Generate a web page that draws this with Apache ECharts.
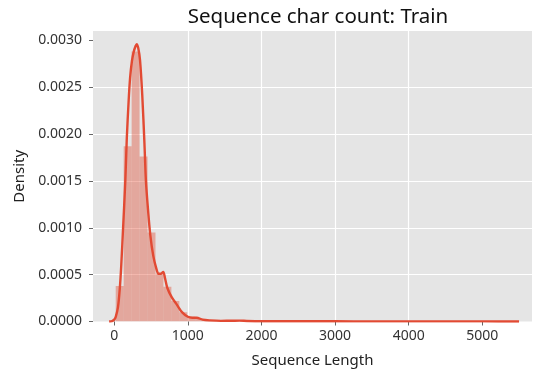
<!DOCTYPE html>
<html>
<head>
<meta charset="utf-8">
<script src="https://cdn.jsdelivr.net/npm/echarts@6/dist/echarts.min.js"></script>
<style>
  html, body { margin: 0; padding: 0; background: #fff; }
  #chart { width: 533px; height: 375px; }
</style>
</head>
<body>
<div id="chart"></div>
<script>
// histogram: 50 equal bins starting at histStart
const histStart = 20
const binWidth = 108
const binDensity = [
  0.00038, 0.00187, 0.00288, 0.00176, 0.00095, 0.00051, 0.00037, 0.00022, 0.00010, 0.00005,
  0.00003, 0.000012, 0.000008, 0.000006, 0.000005, 0.000007, 0.000005, 0.000003, 0.000002, 0.000002,
  0.000001, 0.000001, 0.000001, 0.000001, 0, 0.000001, 0, 0, 0.000001, 0,
  0, 0, 0.000001, 0, 0, 0, 0, 0, 0.000001, 0,
  0, 0, 0, 0, 0, 0, 0, 0, 0, 0.000001
]

// kde curve
const kdeX = [-70, -30, 0, 20, 50, 75, 95, 120, 150, 170, 195, 215, 240, 265, 290, 305, 325, 350, 380, 410,
  430, 460, 490, 530, 570, 600, 630, 665, 690, 720, 780, 850, 920, 1000, 1060, 1120, 1200, 1300, 1450, 1600,
  1700, 1800, 2000, 2500, 3000, 3500, 4000, 4500, 5000, 5500]
const kdeY = [0, 0.000005, 0.00002, 0.00005, 0.00015, 0.00035, 0.0006, 0.001, 0.0015, 0.00195, 0.00235, 0.0026, 0.00278, 0.00288, 0.00294, 0.00296, 0.00292, 0.00279, 0.00242, 0.0019,
  0.0015, 0.00118, 0.00092, 0.0007, 0.00057, 0.00051, 0.00051, 0.00053, 0.00046, 0.00036, 0.00026, 0.00018, 0.0001, 0.00005, 0.00004, 0.00004, 0.00002, 0.000012, 0.000007, 0.000008,
  0.000009, 0.000006, 0.000003, 0.000002, 0.000002, 0.000001, 0.000001, 0.000001, 0.000001, 0]

const xTicks = [0, 1000, 2000, 3000, 4000, 5000]
const yTicks = [0, 0.0005, 0.001, 0.0015, 0.002, 0.0025, 0.003]

const RED = '#E24A33'
const FONT = 'Noto Sans'

const histData = binDensity.map((d, i) => [histStart + i * binWidth, histStart + (i + 1) * binWidth, d])
const kdeData = kdeX.map((x, i) => [x, kdeY[i]])

const histRender = function (params, api) {
  const topLeft = api.coord([api.value(0), api.value(2)])
  const bottomRight = api.coord([api.value(1), 0])
  return {
    type: 'rect',
    shape: {
      x: topLeft[0],
      y: topLeft[1],
      width: bottomRight[0] - topLeft[0],
      height: bottomRight[1] - topLeft[1]
    },
    style: { fill: 'rgba(226,74,51,0.4)' }
  }
}

const chart = echarts.init(document.getElementById('chart'), null, { renderer: 'canvas' })
chart.setOption({
  animation: false,
  backgroundColor: '#fff',
  textStyle: { fontFamily: FONT },
  title: {
    text: 'Sequence char count: Train',
    left: 313,
    textAlign: 'center',
    top: 2,
    textStyle: { fontFamily: FONT, fontSize: 20.5, fontWeight: 'normal', color: '#111' }
  },
  grid: {
    left: 93,
    right: 1,
    top: 31,
    bottom: 53.5,
    show: true,
    backgroundColor: '#E5E5E5',
    borderWidth: 0
  },
  xAxis: {
    type: 'value',
    min: -289,
    max: 5676,
    name: 'Sequence Length',
    nameLocation: 'middle',
    nameGap: 32,
    nameTextStyle: { fontFamily: FONT, fontSize: 15, color: '#222' },
    axisLine: { show: false, onZero: false },
    axisTick: { show: true, customValues: xTicks, length: 4, lineStyle: { color: '#666' } },
    axisLabel: { customValues: xTicks, margin: 8, fontSize: 14, color: '#333', fontFamily: FONT, formatter: (v) => String(v) },
    splitLine: { show: true, showMinLine: false, showMaxLine: false, lineStyle: { color: '#fff', width: 1.2 } }
  },
  yAxis: {
    type: 'value',
    min: 0,
    max: 0.0031,
    interval: 0.0005,
    name: 'Density',
    nameLocation: 'middle',
    nameGap: 66,
    nameTextStyle: { fontFamily: FONT, fontSize: 15, color: '#222' },
    axisLine: { show: false, onZero: false },
    axisTick: { show: true, customValues: yTicks, length: 4, lineStyle: { color: '#666' } },
    axisLabel: {
      customValues: yTicks,
      margin: 11,
      fontSize: 14,
      color: '#333',
      fontFamily: FONT,
      formatter: (v) => v.toFixed(4)
    },
    splitLine: { show: true, showMinLine: false, showMaxLine: false, lineStyle: { color: '#fff', width: 1.2 } }
  },
  series: [
    {
      type: 'custom',
      renderItem: histRender,
      data: histData,
      encode: { x: [0, 1], y: 2 },
      clip: true,
      z: 2
    },
    {
      type: 'line',
      data: kdeData,
      showSymbol: false,
      smooth: 0.3,
      lineStyle: { color: RED, width: 2.4 },
      z: 3
    }
  ]
})
</script>
</body>
</html>
